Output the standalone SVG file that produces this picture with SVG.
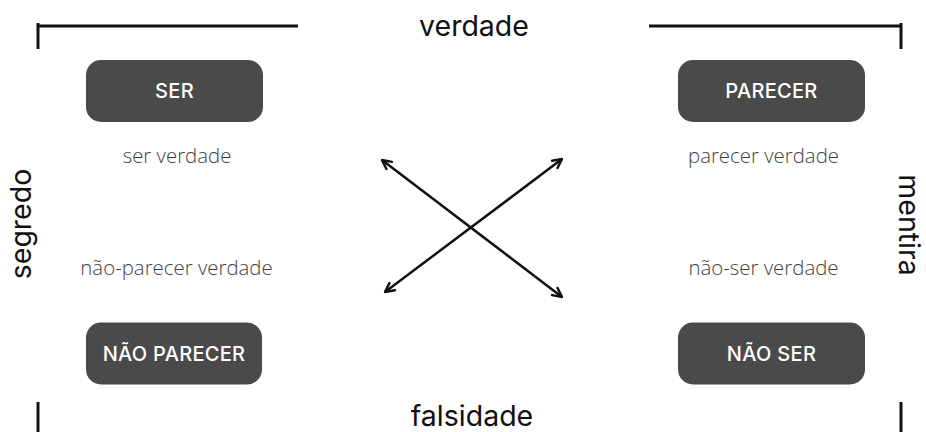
<svg xmlns="http://www.w3.org/2000/svg" width="926" height="432" viewBox="0 0 926 432">
<defs>
<style>
.bar{stroke:#111;stroke-width:3;fill:none;stroke-linecap:butt}
.big{font-family:Inter,"Liberation Sans",sans-serif;font-size:28.5px;fill:#111;text-anchor:middle}
.box{fill:#4a4a4a}
.lab{font-family:Inter,"Liberation Sans",sans-serif;font-weight:500;font-size:20px;letter-spacing:0.3px;fill:#fff;text-anchor:middle}
.sub{font-family:"Open Sans","Liberation Sans",sans-serif;font-weight:300;font-size:20.4px;fill:#3f3f3f;text-anchor:middle}
.arr{stroke:#111;stroke-width:2.5;fill:none}
</style>
<marker id="ah" viewBox="0 0 12 12" refX="11" refY="6" markerWidth="12" markerHeight="12" markerUnits="userSpaceOnUse" orient="auto-start-reverse">
<path d="M2,1.5 L11,6 L2,10.5" fill="none" stroke="#111" stroke-width="2.5" stroke-linecap="round" stroke-linejoin="round"/>
</marker>
</defs>
<rect width="926" height="432" fill="#fff"/>
<g id="frame">
<path class="bar" d="M38,23 V49 M38,26 H298"/>
<path class="bar" d="M901,23 V49 M901,26 H649"/>
<path class="bar" d="M38,402 V432"/>
<path class="bar" d="M901,402 V432"/>
<text class="big" x="474" y="36">verdade</text>
<text class="big" x="472" y="426">falsidade</text>
<text class="big" transform="translate(31,224) rotate(-90)">segredo</text>
<text class="big" transform="translate(899,225) rotate(90)">mentira</text>
</g>
<g id="ser">
<rect class="box" x="86" y="60" width="177" height="62" rx="15"/>
<text class="lab" x="174.5" y="98">SER</text>
<text class="sub" x="177" y="163">ser verdade</text>
</g>
<g id="parecer">
<rect class="box" x="678" y="60" width="187" height="62" rx="15"/>
<text class="lab" x="771.5" y="98">PARECER</text>
<text class="sub" x="763.5" y="163">parecer verdade</text>
</g>
<g id="nao-parecer">
<rect class="box" x="86" y="322.5" width="176" height="62" rx="15"/>
<text class="lab" x="174" y="361">NÃO PARECER</text>
<text class="sub" x="176.5" y="275">não-parecer verdade</text>
</g>
<g id="nao-ser">
<rect class="box" x="678" y="322.5" width="187" height="62" rx="15"/>
<text class="lab" x="771.5" y="361">NÃO SER</text>
<text class="sub" x="763.5" y="275">não-ser verdade</text>
</g>
<g id="connectors">
<line class="arr" x1="382" y1="160" x2="562" y2="297" marker-start="url(#ah)" marker-end="url(#ah)"/>
<line class="arr" x1="385" y1="292" x2="562" y2="159" marker-start="url(#ah)" marker-end="url(#ah)"/>
</g>
</svg>
